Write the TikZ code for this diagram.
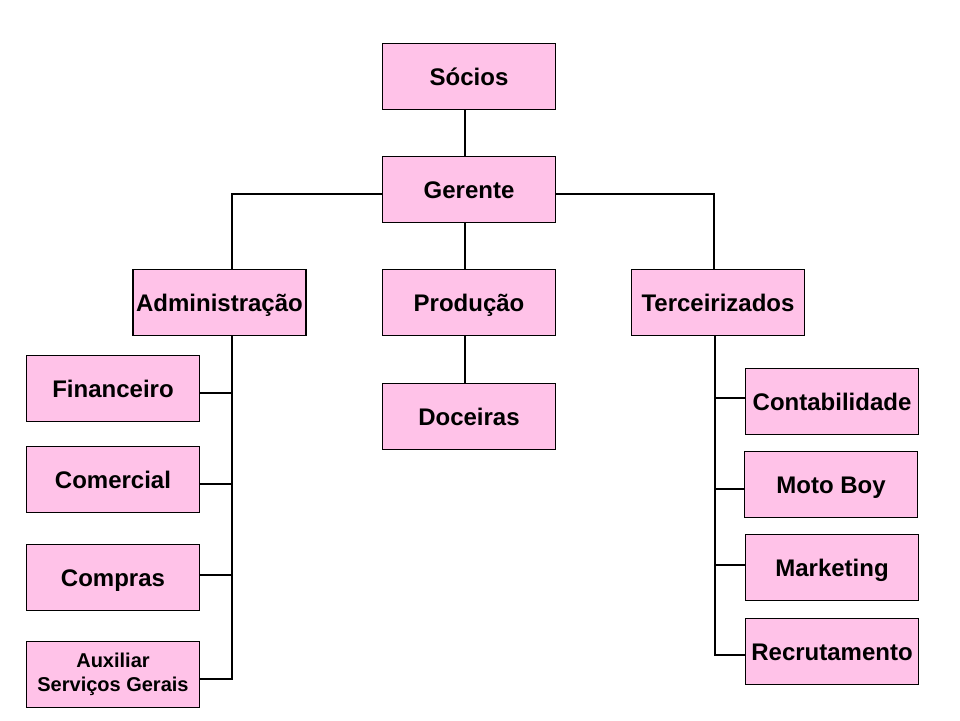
\documentclass[tikz,border=0pt]{standalone}
\usepackage{fontspec}
\setmainfont{Liberation Sans}
\definecolor{boxpink}{RGB}{255,194,232}
\begin{document}
\begin{tikzpicture}[x=1pt,y=-1pt,
  orgbox/.style={draw=black,line width=1.2pt,fill=boxpink,minimum width=173pt,minimum height=66pt,inner sep=0pt,align=center,text height=17pt,text depth=0pt,font=\fontsize{24}{28}\selectfont\bfseries},
  smallbox/.style={orgbox,text height=,text depth=,font=\fontsize{20}{24}\selectfont\bfseries},
  conn/.style={draw=black,line width=1.2pt}]
\useasboundingbox (0,0) rectangle (960,720);
\fill[white] (0,0) rectangle (960,720);
\node[orgbox] (soc) at (469,76.5) {Sócios};
\node[orgbox] (ger) at (469,189.5) {Gerente};
\node[orgbox] (adm) at (219.5,302.5) {Administração};
\node[orgbox] (pro) at (469,302.5) {Produção};
\node[orgbox] (ter) at (718,302.5) {Terceirizados};
\node[orgbox] (doc) at (469,416.5) {Doceiras};
\node[orgbox] (fin) at (113,388.5) {Financeiro};
\node[orgbox] (com) at (113,479.5) {Comercial};
\node[orgbox] (cmp) at (113,577.5) {Compras};
\node[smallbox] (aux) at (113,674.5) {Auxiliar\\Serviços Gerais};
\node[orgbox] (cont) at (832,401.5) {Contabilidade};
\node[orgbox] (moto) at (831,484.5) {Moto Boy};
\node[orgbox] (mkt) at (832,567.5) {Marketing};
\node[orgbox] (rec) at (832,651.5) {Recrutamento};
% top
\draw[conn] ([xshift=-4pt]soc.south) -- ([xshift=-4pt]ger.north);
\draw[conn] ([xshift=-4pt]ger.south) -- ([xshift=-4pt]pro.north);
\draw[conn] ([xshift=-4pt]pro.south) -- ([xshift=-4pt]doc.north);
\draw[conn] ([yshift=-4.5pt]ger.west) -| ([xshift=12.5pt]adm.north);
\draw[conn] ([yshift=-4.5pt]ger.east) -| ([xshift=-4pt]ter.north);
% left bus
\draw[conn] ([xshift=12.5pt]adm.south) |- ([yshift=-4.5pt]aux.east);
\draw[conn] ([yshift=-4.5pt]fin.east) -- ++(32,0);
\draw[conn] ([yshift=-4.5pt]com.east) -- ++(32,0);
\draw[conn] ([yshift=2.5pt]cmp.east) -- ++(32,0);
% right bus
\draw[conn] ([xshift=-3pt]ter.south) |- ([yshift=-3.5pt]rec.west);
\draw[conn] ([yshift=3.5pt]cont.west) -- ++(-30,0);
\draw[conn] ([yshift=-4.5pt]moto.west) -- ++(-29,0);
\draw[conn] ([yshift=2.5pt]mkt.west) -- ++(-30,0);
\end{tikzpicture}
\end{document}
